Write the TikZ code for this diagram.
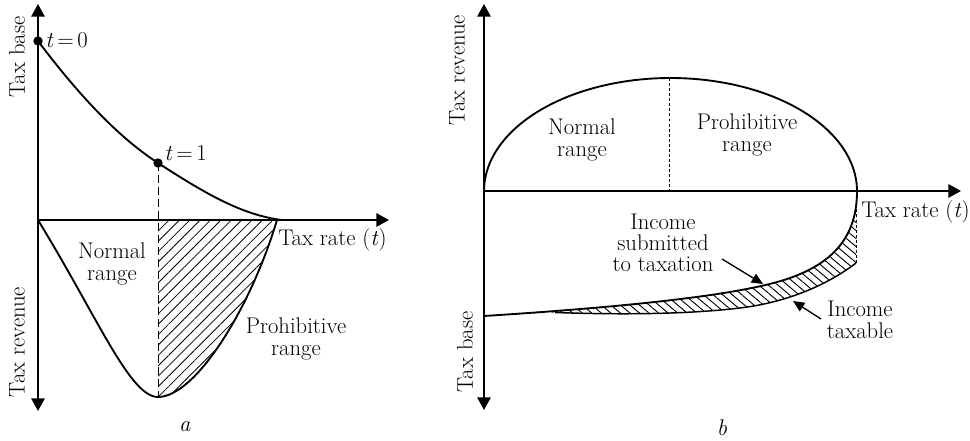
\documentclass[tikz,border=0pt]{standalone}
\usetikzlibrary{arrows.meta,patterns.meta}
\begin{document}
\begin{tikzpicture}[x=0.75pt,y=-0.75pt,
  ax/.style={line width=1.5pt,{Triangle[length=9.5pt,width=10pt]}-{Triangle[length=9.5pt,width=10pt]}},
  axr/.style={line width=1.5pt,-{Triangle[length=9.5pt,width=10pt]}},
  crv/.style={line width=1.4pt},
  crvthin/.style={line width=1.1pt},
  lbl/.style={font=\fontsize{17}{16}\selectfont,inner sep=0pt,align=center},
  dotn/.style={circle,fill=black,inner sep=0pt,minimum size=7pt},
  dasha/.style={line width=0.7pt,dash pattern=on 6pt off 3pt},
  dashb/.style={line width=0.6pt,dash pattern=on 2.2pt off 1.6pt},
  pointer/.style={line width=1pt,-{Triangle[length=8.5pt,width=7.5pt]}}
]
\useasboundingbox (0,0) rectangle (970,441);

% ---------- panel a ----------
\coordinate (aT) at (38,4);
\coordinate (aB) at (38,411);
\coordinate (aO) at (38,220);
\coordinate (aX) at (389,220);
\coordinate (aM) at (158,220);
\coordinate (aV) at (158,397);
\coordinate (aE) at (277,220);
\coordinate (aEnd) at (282,220);
\coordinate (p0) at (38,41);
\coordinate (p1) at (158,163);

\fill[pattern={Lines[angle=45,distance=5.5pt,line width=0.6pt]}]
  (aM) -- (aV) .. controls (195,397) and (250,310) .. (aE) -- cycle;

\draw[ax] (aT) -- (aB);
\draw[axr] (aO) -- (aX);
\draw[crv] (aO) .. controls (98,318) and (130,397) .. (aV)
           .. controls (195,397) and (250,310) .. (aE);
\draw[crv] (p0) .. controls (75,90) and (115,135) .. (p1)
           .. controls (200,190) and (240,215) .. (aEnd);
\draw[dasha] (p1) -- (aV);
\node[dotn] (d0) at (p0) {};
\node[dotn] (d1) at (p1) {};

\node[lbl,anchor=west] (lt0) at (45,40) {\textit{t}\,=\,0};
\node[lbl,anchor=west] (lt1) at (164,153) {\textit{t}\,=\,1};
\node[lbl] (anorm) at (112,264) {Normal\\range};
\node[lbl] (aproh) at (296,339) {Prohibitive\\range};
\node[lbl,anchor=west] (arate) at (278,240) {Tax rate (\textit{t})};
\node[lbl,rotate=90] (abase) at (17,57) {Tax base};
\node[lbl,rotate=90] (arev) at (17,342) {Tax revenue};
\node[lbl] (alab) at (185,427) {\textit{a}};

% ---------- panel b ----------
\coordinate (bT) at (484,4);
\coordinate (bB) at (484,410);
\coordinate (bO) at (484,191);
\coordinate (bX) at (961,191);
\coordinate (bTop) at (669,78);
\coordinate (bMid) at (669,191);
\coordinate (bR) at (857,191);
\coordinate (bK) at (790,278);
\coordinate (bS) at (484,316);
\coordinate (bL0) at (555,312.5);
\coordinate (bL1) at (740,308);
\coordinate (bL2) at (856,263);
\coordinate (bD) at (856,206);

\fill[pattern={Lines[angle=-40,distance=4.6pt,line width=0.7pt]}]
  (bL0) .. controls (625,315) and (690,314) .. (bL1)
        .. controls (790,302) and (830,283) .. (bL2)
  -- (bR) .. controls (857,235) and (835,262) .. (bK)
        .. controls (745,294) and (640,306) .. (bS) -- cycle;

\draw[ax] (bT) -- (bB);
\draw[axr] (bO) -- (bX);
\draw[crv] plot[domain=180:0,samples=90,variable=\t] ({670.5+186.5*cos(\t)},{191-113*sin(\t)});
\draw[dashb] (bTop) -- (bMid);
\draw[crv] (bR) .. controls (857,235) and (835,262) .. (bK)
           .. controls (745,294) and (640,306) .. (bS);
\draw[crvthin] (bL0) .. controls (625,315) and (690,314) .. (bL1)
               .. controls (790,302) and (830,283) .. (bL2);
\draw[dashb] (bL2) -- (bD);

\node[lbl] (bnorm) at (582,140) {Normal\\range};
\node[lbl] (bproh) at (747,135) {Prohibitive\\range};
\node[lbl] (binc) at (663,243) {Income\\submitted\\to taxation};
\node[lbl] (btax) at (860,320) {Income\\taxable};
\node[lbl,anchor=west] (brate) at (861,212) {Tax rate (\textit{t})};
\node[lbl,rotate=90] (brev) at (457,70) {Tax revenue};
\node[lbl,rotate=90] (bbase) at (465,352) {Tax base};
\node[lbl] (blab) at (722,428) {\textit{b}};

\coordinate (q1s) at (722,259);
\coordinate (q1e) at (763,284);
\coordinate (q2s) at (821,319);
\coordinate (q2e) at (793,301);
\draw[pointer] (q1s) -- (q1e);
\draw[pointer] (q2s) -- (q2e);
\end{tikzpicture}
\end{document}
